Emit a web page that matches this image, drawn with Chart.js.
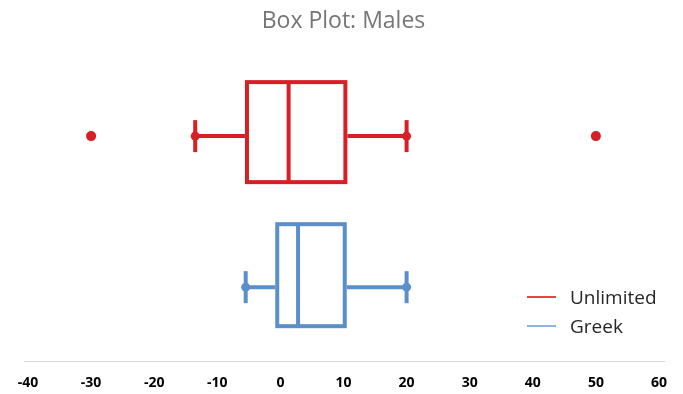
<!DOCTYPE html>
<html>
<head>
<meta charset="utf-8">
<script src="https://cdn.jsdelivr.net/npm/chart.js@4/dist/chart.umd.min.js"></script>
<style>
  html, body { margin: 0; padding: 0; background: #ffffff; }
  #wrap { position: relative; width: 683px; height: 394px; }
  #legend { position: absolute; left: 527px; top: 282px; font-family: "Open Sans", sans-serif; font-size: 19px; color: #262626; }
  .item { display: flex; align-items: center; height: 29px; }
  .swatch { width: 29px; height: 2px; margin-right: 14px; }
</style>
</head>
<body>
<div id="wrap">
  <canvas id="c" width="683" height="394"></canvas>
  <div id="legend"></div>
</div>
<script>
// ---- data ----
const categories   = ['Unlimited', 'Greek'];
const whiskerLow   = [-13.5, -5.5];
const q1           = [-5.3, -0.5];
const median       = [1.3, 2.8];
const q3           = [10.3, 10.2];
const whiskerHigh  = [20, 20];
const outliers     = [[-30, 50], []];
const xTickLabels  = ['-40', '-30', '-20', '-10', '0', '10', '20', '30', '40', '50', '60'];

// ---- styles ----
const colors = ['#d71f26', '#5b8fca'];
const legendColors = ['#e8434a', '#8fb4e0'];
const boxHalf = [50, 51];          // px
const whiskerOffset = [4, 12];     // px (whisker line sits slightly lower)
const capHalf = 16;                // px
const lineW = 4;

const boxPlugin = {
  id: 'boxPlugin',
  beforeDatasetsDraw(chart) {
    const ctx = chart.ctx, a = chart.chartArea;
    ctx.save();
    ctx.strokeStyle = '#d9d9d9';
    ctx.lineWidth = 1;
    ctx.beginPath();
    ctx.moveTo(a.left - 4, a.bottom + 0.5);
    ctx.lineTo(a.right + 6, a.bottom + 0.5);
    ctx.stroke();
    ctx.restore();
  },
  afterDatasetsDraw(chart) {
    const ctx = chart.ctx;
    const xs = chart.scales.x, ys = chart.scales.y;
    ctx.save();
    categories.forEach((cat, i) => {
      const yc = ys.getPixelForValue(i);
      const yw = yc + whiskerOffset[i];
      const px = v => xs.getPixelForValue(v);
      ctx.strokeStyle = colors[i];
      ctx.fillStyle = colors[i];
      ctx.lineWidth = lineW;
      ctx.lineCap = 'butt';
      ctx.strokeRect(px(q1[i]), yc - boxHalf[i], px(q3[i]) - px(q1[i]), boxHalf[i] * 2);
      ctx.beginPath();
      ctx.moveTo(px(median[i]), yc - boxHalf[i]);
      ctx.lineTo(px(median[i]), yc + boxHalf[i]);
      ctx.stroke();
      ctx.beginPath();
      ctx.moveTo(px(whiskerLow[i]), yw);
      ctx.lineTo(px(q1[i]) - lineW / 2, yw);
      ctx.moveTo(px(q3[i]) + lineW / 2, yw);
      ctx.lineTo(px(whiskerHigh[i]), yw);
      ctx.stroke();
      [whiskerLow[i], whiskerHigh[i]].forEach(v => {
        ctx.beginPath();
        ctx.moveTo(px(v), yw - capHalf);
        ctx.lineTo(px(v), yw + capHalf);
        ctx.stroke();
        ctx.beginPath();
        ctx.arc(px(v), yw, 4.5, 0, Math.PI * 2);
        ctx.fill();
      });
      outliers[i].forEach(v => {
        ctx.beginPath();
        ctx.arc(px(v), yw, 5, 0, Math.PI * 2);
        ctx.fill();
      });
    });
    ctx.restore();
  }
};

new Chart(document.getElementById('c'), {
  type: 'scatter',
  data: { datasets: [] },
  options: {
    responsive: false,
    animation: false,
    layout: { padding: { left: 28, right: 24, top: 0, bottom: 0 } },
    plugins: {
      legend: { display: false },
      tooltip: { enabled: false },
      title: {
        display: true,
        text: 'Box Plot: Males',
        color: '#767676',
        font: { family: 'Open Sans', size: 23, weight: 'normal' },
        padding: { top: 8, bottom: 25 }
      }
    },
    scales: {
      x: {
        type: 'linear',
        min: -40, max: 60,
        grid: { display: false, drawTicks: false },
        border: { display: false },
        afterFit: s => { s.height = 33; },
        ticks: {
          stepSize: 10,
          padding: 14,
          color: '#000000',
          font: { family: 'Open Sans', size: 14, weight: 'bold' },
          callback: (v, idx) => xTickLabels[idx]
        }
      },
      y: {
        type: 'linear',
        display: false,
        reverse: true,
        min: -0.5, max: 1.6
      }
    }
  },
  plugins: [boxPlugin]
});

const lg = document.getElementById('legend');
categories.forEach((c, i) => {
  const d = document.createElement('div');
  d.className = 'item';
  d.innerHTML = '<span class="swatch" style="background:' + legendColors[i] + '"></span><span>' + c + '</span>';
  lg.appendChild(d);
});
</script>
</body>
</html>
